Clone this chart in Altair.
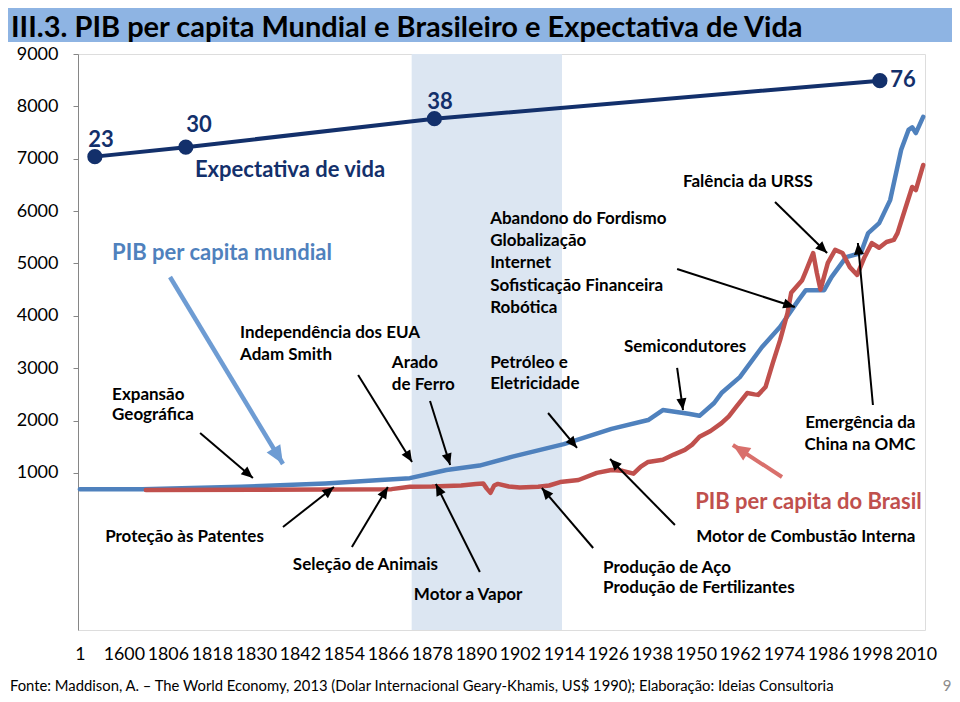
import math
import altair as alt
import pandas as pd

# ---------------- data ----------------
# category axis: one label every 12 categories (category index -> label)
tick_labels = ["1", "1600", "1806", "1818", "1830", "1842", "1854", "1866", "1878", "1890",
               "1902", "1914", "1926", "1938", "1950", "1962", "1974", "1986", "1998", "2010"]
tick_positions = [0, 12, 24, 36, 48, 60, 72, 84, 96, 108,
                  120, 132, 144, 156, 168, 180, 192, 204, 216, 228]

# PIB per capita mundial (category index, US$ 1990)
world_idx = [0, 17, 44, 67, 82, 90, 100, 109, 118, 132, 145, 155, 159, 166, 169, 173, 175,
             180, 186, 191, 196, 198, 203, 205, 209, 213, 215, 218, 221, 224, 226, 227, 228, 230]
world_gdp = [690, 690, 735, 800, 865, 900, 1055, 1140, 1310, 1550, 1840, 2010, 2200, 2130, 2090,
             2335, 2525, 2830, 3400, 3790, 4300, 4490, 4490, 4740, 5120, 5200, 5580, 5770, 6210,
             7170, 7550, 7600, 7490, 7800]

# PIB per capita do Brasil
brazil_idx = [18, 50, 85, 90, 96, 104, 108, 110, 111, 112, 113, 114, 117, 120, 125, 128, 131,
              136, 141, 145, 148, 151, 153, 155, 159, 162, 165, 167, 169, 172, 175, 177, 179,
              182, 184, 185, 187, 189, 191, 193, 194, 197, 198, 200, 201, 202, 204, 206, 208,
              210, 212, 214, 216, 218, 220, 222, 223, 225, 227, 228, 230]
brazil_gdp = [675, 680, 690, 735, 740, 760, 790, 800, 700, 620, 760, 790, 740, 720, 735, 760, 825,
              865, 1000, 1055, 1040, 985, 1120, 1210, 1250, 1350, 1440, 1540, 1690, 1800, 1950,
              2080, 2260, 2525, 2500, 2490, 2640, 3100, 3540, 4050, 4440, 4680, 4850, 5200, 4820,
              4500, 5010, 5260, 5200, 4930, 4780, 5120, 5390, 5300, 5410, 5450, 5580, 6020, 6460,
              6400, 6880]

# Expectativa de vida (illustrative line drawn over the chart)
life_years = [23, 30, 38, 76]
life_idx = [4.1, 28.9, 96.7, 218.2]
life_level = [7040, 7220, 7765, 8490]
life_label_idx = [5.8, 32.5, 98.2, 224.5]
life_label_level = [7360, 7645, 8085, 8505]

# shaded period
band_start, band_end = 90.5, 131.5

# ---------------- annotations (data units) ----------------
left_texts = [
    ("Expansão", 8.8, 2490), ("Geográfica", 8.8, 2105),
    ("Independência dos EUA", 43.7, 3670), ("Adam Smith", 43.7, 3250),
    ("Arado", 85.1, 3100), ("de Ferro", 85.1, 2680),
    ("Abandono do Fordismo", 111.9, 5850), ("Globalização", 111.9, 5430),
    ("Internet", 111.9, 5010), ("Sofisticação Financeira", 111.9, 4570),
    ("Robótica", 111.9, 4150),
    ("Petróleo e", 111.9, 3100), ("Eletricidade", 111.9, 2700),
    ("Semicondutores", 148.4, 3405),
    ("Falência da URSS", 164.5, 6555),
    ("Produção de Aço", 142.7, -815), ("Produção de Fertilizantes", 142.7, -1200),
    ("Proteção às Patentes", 6.9, -225),
    ("Seleção de Animais", 58.1, -760),
    ("Motor a Vapor", 91.1, -1330),
]
right_texts = [
    ("Emergência da", 227.9, 1955), ("China na OMC", 227.9, 1535),
    ("Motor de Combustão Interna", 227.9, -225),
]
series_texts = [
    ("PIB per capita mundial", 8.8, 5200, "#4F81BD", "left"),
    ("Expectativa de vida", 31.4, 6785, "#13306B", "left"),
    ("PIB per capita do Brasil", 229.6, 445, "#C0504D", "right"),
]
# arrows: start x, start y, tip x, tip y, colour, line width, head size
arrows = [
    (32.8, 1762, 47.2, 903, "#000000", 2, 240),
    (24.6, 4741, 55.4, 1170, "#6E9CD3", 4.5, 600),
    (75.9, 2870, 90.6, 1208, "#000000", 2, 240),
    (95.5, 2373, 101.0, 1151, "#000000", 2, 240),
    (162.9, 4894, 195.0, 4168, "#000000", 2, 240),
    (127.7, 2144, 135.6, 1476, "#000000", 2, 240),
    (162.9, 3004, 164.5, 2201, "#000000", 2, 240),
    (189.6, 6174, 203.8, 5200, "#000000", 2, 240),
    (216.3, 2297, 212.2, 5391, "#000000", 2, 240),
    (191.5, 922, 178.1, 1533, "#D9706C", 4, 520),
    (162.3, 5, 144.6, 1266, "#000000", 2, 240),
    (140.0, -434, 126.0, 712, "#000000", 2, 240),
    (55.4, -33, 69.3, 731, "#000000", 2, 240),
    (74.2, -415, 84.0, 731, "#000000", 2, 240),
    (109.1, -892, 97.1, 788, "#000000", 2, 240),
]

TITLE = "III.3. PIB per capita Mundial e Brasileiro e Expectativa de Vida"
SOURCE = ("Fonte: Maddison, A. – The World Economy, 2013 (Dolar Internacional Geary-Khamis, "
          "US$ 1990); Elaboração: Ideias Consultoria")

# ---------------- layout ----------------
W, H = 847, 576
X_DOMAIN = [-0.5, 230.5]
Y_DOMAIN = [-2000, 9000]
FONT = "Lato"
NAVY = "#13306B"

px_x = W / (X_DOMAIN[1] - X_DOMAIN[0])
px_y = H / (Y_DOMAIN[1] - Y_DOMAIN[0])

labels_js = "[" + ",".join("'%s'" % t for t in tick_labels) + "]"
pos_js = "[" + ",".join(str(p) for p in tick_positions) + "]"

xscale = alt.Scale(domain=X_DOMAIN, nice=False, zero=False)
yscale = alt.Scale(domain=Y_DOMAIN, nice=False, zero=False)
xaxis = alt.Axis(values=tick_positions, labelExpr=f"{labels_js}[indexof({pos_js}, datum.value)]",
                 domain=False, ticks=False, grid=False, labelFontSize=17.8, labelPadding=15,
                 labelColor="black", labelOverlap=False, labelFlush=False, labelBound=False,
                 labelFont=FONT, title=None)
yaxis = alt.Axis(values=[1000, 2000, 3000, 4000, 5000, 6000, 7000, 8000, 9000], format="d",
                 grid=False, domainColor="#868686", tickColor="#868686", tickSize=5,
                 labelPadding=15, labelFontSize=18, labelColor="black", labelFont=FONT,
                 title=None)
X = alt.X("x:Q", scale=xscale, axis=xaxis)
Y = alt.Y("y:Q", scale=yscale, axis=yaxis)

one = pd.DataFrame({"a": [0]})

# title bar
title_bar = alt.Chart(one).mark_rect(color="#8EB4E3").encode(
    x=alt.value(-70), x2=alt.value(874), y=alt.value(-46), y2=alt.value(-12))
title_txt = alt.Chart(one).mark_text(align="left", baseline="alphabetic", fontSize=29,
                                     fontWeight="bold", font=FONT, color="black").encode(
    x=alt.value(-67), y=alt.value(-17), text=alt.value(TITLE))
source_txt = alt.Chart(one).mark_text(align="left", baseline="middle", fontSize=14.8,
                                      font=FONT, color="black").encode(
    x=alt.value(-68), y=alt.value(633), text=alt.value(SOURCE))
page_txt = alt.Chart(one).mark_text(align="center", baseline="middle", fontSize=15,
                                    font=FONT, color="#8C8C8C").encode(
    x=alt.value(869), y=alt.value(632), text=alt.value("9"))

band = alt.Chart(pd.DataFrame({"x": [band_start], "x2": [band_end],
                               "y": [Y_DOMAIN[1]], "y2": [Y_DOMAIN[0]]})).mark_rect(
    color="#DCE6F2").encode(x=X, x2="x2:Q", y=Y, y2="y2:Q")

world = alt.Chart(pd.DataFrame({"x": world_idx, "y": world_gdp})).mark_line(
    color="#4F81BD", strokeWidth=4.5, strokeJoin="round", strokeCap="round").encode(x=X, y=Y)
brazil = alt.Chart(pd.DataFrame({"x": brazil_idx, "y": brazil_gdp})).mark_line(
    color="#C0504D", strokeWidth=4.5, strokeJoin="round", strokeCap="round").encode(x=X, y=Y)

life_df = pd.DataFrame({"x": life_idx, "y": life_level})
life_line = alt.Chart(life_df).mark_line(color=NAVY, strokeWidth=4).encode(x=X, y=Y)
life_pts = alt.Chart(life_df).mark_circle(color=NAVY, size=230, opacity=1).encode(x=X, y=Y)
life_lbl = alt.Chart(pd.DataFrame({"x": life_label_idx, "y": life_label_level,
                                   "t": [str(v) for v in life_years]})).mark_text(
    align="center", baseline="middle", fontSize=22, fontWeight="bold", font=FONT,
    color=NAVY).encode(x=X, y=Y, text="t:N")

lt = alt.Chart(pd.DataFrame(left_texts, columns=["t", "x", "y"])).mark_text(
    align="left", baseline="middle", fontSize=17, fontWeight="bold", font=FONT,
    color="black").encode(x=X, y=Y, text="t:N")
rt = alt.Chart(pd.DataFrame(right_texts, columns=["t", "x", "y"])).mark_text(
    align="right", baseline="middle", fontSize=17, fontWeight="bold", font=FONT,
    color="black").encode(x=X, y=Y, text="t:N")

series_layers = []
for t, x, y, c, a in series_texts:
    series_layers.append(
        alt.Chart(pd.DataFrame({"t": [t], "x": [x], "y": [y]})).mark_text(
            align=a, baseline="middle", fontSize=22, fontWeight="bold", font=FONT,
            color=c).encode(x=X, y=Y, text="t:N"))

rows = []
for x1, y1, x2, y2, c, lw, hs in arrows:
    dxp = (x2 - x1) * px_x
    dyp = -(y2 - y1) * px_y
    ang = math.degrees(math.atan2(dxp, -dyp)) % 360
    rows.append({"x": x1, "y": y1, "x2": x2, "y2": y2, "c": c, "lw": lw, "hs": hs,
                 "tx": x2, "ty": y2, "ang": ang})
arr_df = pd.DataFrame(rows)
arrow_lines = alt.Chart(arr_df).mark_rule().encode(
    x=X, y=Y, x2="x2:Q", y2="y2:Q",
    color=alt.Color("c:N", scale=None), size=alt.Size("lw:Q", scale=None))
arrow_heads = alt.Chart(arr_df).mark_point(
    shape="M0,0L0.65,1.5L-0.65,1.5Z", filled=True, opacity=1, strokeWidth=0).encode(
    x=alt.X("tx:Q", scale=xscale, axis=xaxis), y=alt.Y("ty:Q", scale=yscale, axis=yaxis),
    color=alt.Color("c:N", scale=None), size=alt.Size("hs:Q", scale=None),
    angle=alt.Angle("ang:Q", scale=None))

chart = alt.layer(
    band, world, brazil, life_line, life_pts, life_lbl,
    arrow_lines, arrow_heads, lt, rt, *series_layers,
    title_bar, title_txt, source_txt, page_txt,
).properties(
    width=W, height=H,
    padding={"left": 70, "top": 46, "right": 27, "bottom": 64},
    autosize=alt.AutoSizeParams(type="none"),
).configure_view(
    stroke="#404040", strokeWidth=1.3
).configure(font=FONT)

chart.save("out.html", embed_options={"renderer": "svg", "actions": False})
